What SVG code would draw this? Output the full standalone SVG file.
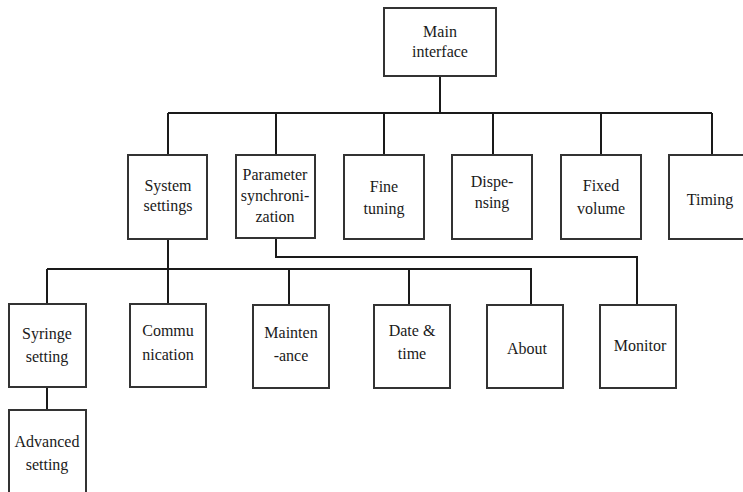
<svg xmlns="http://www.w3.org/2000/svg" width="743" height="492" viewBox="0 0 743 492">
<style>
.box{fill:#fff;stroke:#333;stroke-width:2}
.ln{fill:none;stroke:#1a1a1a;stroke-width:2}
text{font-family:"Liberation Serif","Times New Roman",serif;font-size:16px;fill:#1a1a1a;text-anchor:middle}
</style>
<rect width="743" height="492" fill="#fff"/>
<g id="connectors">
<path class="ln" d="M440 76V113M168 113H712M168 113V155M276 113V155M384 113V155M493 113V155M601 113V155M712 113V155"/>
<path class="ln" d="M168 239V269M47 269H531V305M47 269V304M168 269V304M289 269V305M409 269V305"/>
<path class="ln" d="M276 238V257H637V305"/>
<path class="ln" d="M47 387V410"/>
</g>
<g id="main"><rect class="box" x="384" y="8" width="112" height="68"/><text x="440" y="37">Main</text><text x="440" y="57">interface</text></g>
<g id="system"><rect class="box" x="128" y="155" width="79" height="84"/><text x="168" y="191">System</text><text x="168" y="211">settings</text></g>
<g id="param"><rect class="box" x="236" y="155" width="79" height="83"/><text x="275" y="180">Parameter</text><text x="275" y="201">synchroni-</text><text x="275" y="222">zation</text></g>
<g id="fine"><rect class="box" x="344" y="155" width="80" height="84"/><text x="384" y="192">Fine</text><text x="384" y="214">tuning</text></g>
<g id="disp"><rect class="box" x="452" y="155" width="80" height="84"/><text x="492" y="187">Dispe-</text><text x="492" y="208">nsing</text></g>
<g id="fixed"><rect class="box" x="561" y="155" width="80" height="84"/><text x="601" y="191">Fixed</text><text x="601" y="214">volume</text></g>
<g id="timing"><rect class="box" x="669" y="155" width="80" height="84"/><text x="710" y="205">Timing</text></g>
<g id="syringe"><rect class="box" x="9" y="304" width="77" height="83"/><text x="47" y="339">Syringe</text><text x="47" y="362">setting</text></g>
<g id="comm"><rect class="box" x="130" y="304" width="76" height="83"/><text x="168" y="336">Commu</text><text x="168" y="360">nication</text></g>
<g id="maint"><rect class="box" x="253" y="305" width="76" height="83"/><text x="291" y="338">Mainten</text><text x="291" y="361">-ance</text></g>
<g id="date"><rect class="box" x="374" y="305" width="76" height="83"/><text x="412" y="336">Date &amp;</text><text x="412" y="359">time</text></g>
<g id="about"><rect class="box" x="487" y="305" width="76" height="83"/><text x="527" y="354">About</text></g>
<g id="monitor"><rect class="box" x="600" y="305" width="76" height="83"/><text x="640" y="351">Monitor</text></g>
<g id="advanced"><rect class="box" x="9" y="410" width="77" height="90"/><text x="47" y="447">Advanced</text><text x="47" y="470">setting</text></g>
</svg>
